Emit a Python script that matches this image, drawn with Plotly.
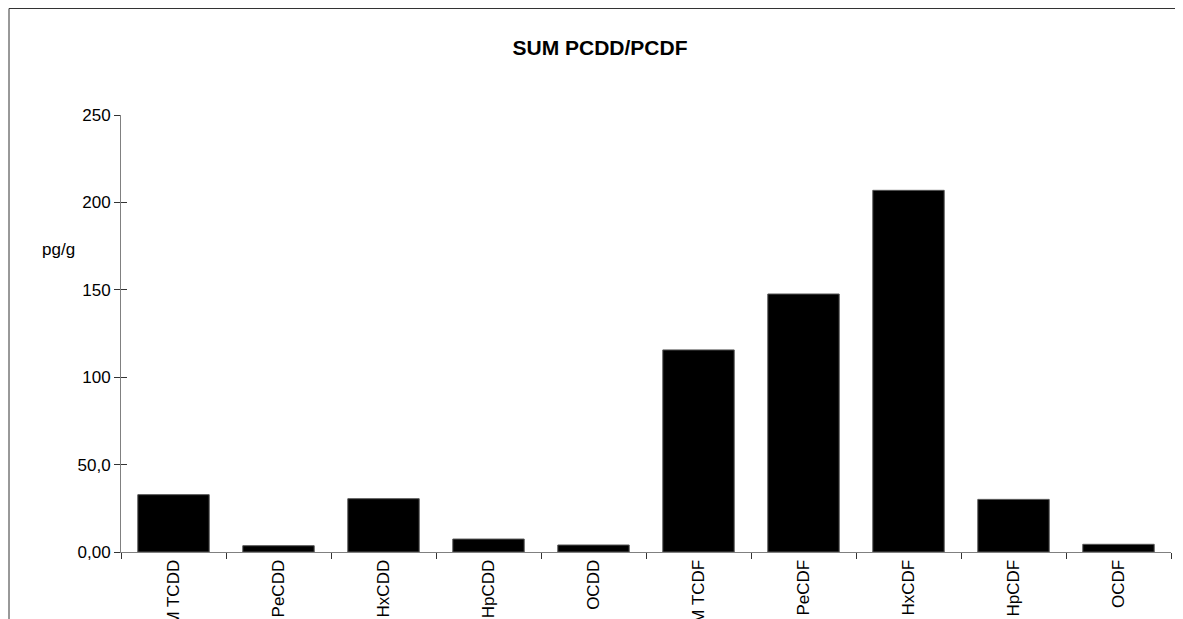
import plotly.graph_objects as go

categories = ["SUM TCDD", "SUM PeCDD", "SUM HxCDD", "SUM HpCDD", "OCDD",
              "SUM TCDF", "SUM PeCDF", "SUM HxCDF", "SUM HpCDF", "OCDF"]
values = [32.8, 3.6, 30.5, 7.4, 4.0, 115.6, 147.6, 206.9, 30.1, 4.4]
tick_vals = [0, 50, 100, 150, 200, 250]
tick_text = ["0,00", "50,0", "100", "150", "200", "250"]

# page body has an 8px margin, so the figure is 8px smaller than the window
W, H = 1175, 611
L, R, T, B = 113, 12, 107, 67
pw, ph = W - L - R, H - T - B
bottom = H - B

font = dict(family="Liberation Sans, Arial, sans-serif", size=17, color="#000")

fig = go.Figure()
fig.add_trace(go.Bar(x=categories, y=values,
                     marker=dict(color="#000", line=dict(color="#555", width=1)),
                     showlegend=False))
# helper traces so the overlay axes get drawn
fig.add_trace(go.Scatter(x=[None], y=[None], yaxis="y2", showlegend=False))
fig.add_trace(go.Scatter(x=[None], y=[None], xaxis="x2", showlegend=False))

fig.update_layout(
    width=W, height=H,
    margin=dict(l=L, r=R, t=T, b=B, autoexpand=False),
    plot_bgcolor="white", paper_bgcolor="white",
    font=font,
    bargap=0.32,
    title=dict(text="<b>SUM PCDD/PCDF</b>", x=592 / W, xanchor="center",
               y=1 - 40 / H, yanchor="middle", font=dict(size=21, color="#000")),
    xaxis=dict(showline=True, linecolor="#808080", linewidth=1, ticks="",
               tickangle=-90, automargin=False, showgrid=False, tickfont=font),
    xaxis2=dict(overlaying="x", categoryorder="array", categoryarray=categories,
                range=[-0.5, len(categories) - 0.5], type="category",
                ticks="outside", tickson="boundaries", ticklen=6, tickcolor="#333",
                showticklabels=False, showgrid=False, showline=False, side="bottom"),
    yaxis=dict(range=[0, 250], tickvals=tick_vals, ticktext=tick_text, showline=True,
               linecolor="#808080", linewidth=1, ticks="outside", ticklen=6, tickcolor="#333",
               showgrid=False, zeroline=False, automargin=False, tickfont=font),
    yaxis2=dict(range=[0, 250], overlaying="y", tickvals=tick_vals, showticklabels=False,
                ticks="inside", ticklen=6, tickcolor="#333", showgrid=False, zeroline=False,
                showline=False, side="left"),
    annotations=[dict(text="pg/g", xref="paper", yref="paper",
                      x=(69 - L) / pw, y=(bottom - 241) / ph, xanchor="right", yanchor="middle",
                      showarrow=False, font=font)],
    shapes=[dict(type="rect", xref="paper", yref="paper",
                 x0=(1 - L) / pw, x1=(W + 20 - L) / pw,
                 y0=(bottom - (H + 20)) / ph, y1=(bottom - 0.5) / ph,
                 line=dict(color="#333", width=1), fillcolor="rgba(0,0,0,0)", layer="below")],
)

fig.write_html("out.html")
